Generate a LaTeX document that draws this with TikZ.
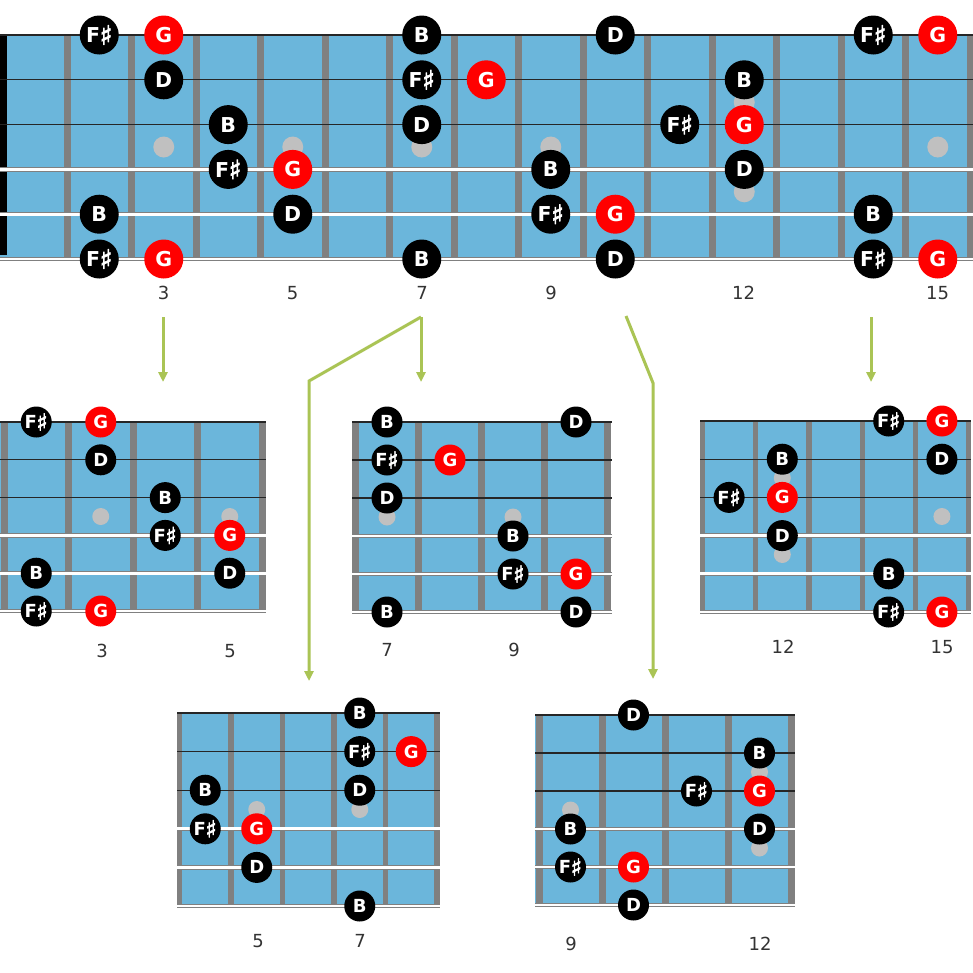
\documentclass[tikz,border=0pt]{standalone}
\usepackage{fontspec}
\setmainfont{DejaVu Sans}
\newfontfamily\shfont[FakeBold=2.5]{DejaVu Sans}
\usetikzlibrary{arrows.meta}
\definecolor{boardblue}{RGB}{107,182,219}
\definecolor{fretgray}{RGB}{128,128,128}
\definecolor{inlaygray}{RGB}{192,192,192}
\definecolor{notered}{RGB}{255,0,0}
\definecolor{conngreen}{RGB}{170,196,85}
\definecolor{labelgray}{RGB}{51,51,51}
\newcommand{\sh}{\kern-0.02em\raisebox{-0.1em}{\scalebox{1.3}{\shfont ♯}}}
\newcommand{\strs}[4]{%
  \foreach \i in {0,1,2} \draw[plainstr] (#1,{#3+(#4-#3)*\i/5}) -- (#2,{#3+(#4-#3)*\i/5});
  \foreach \i in {3,4,5} {\draw[woundout] (#1,{#3+(#4-#3)*\i/5}) -- (#2,{#3+(#4-#3)*\i/5});
    \draw[woundin] (#1,{#3+(#4-#3)*\i/5}) -- (#2,{#3+(#4-#3)*\i/5});}
}
\tikzset{
  board/.style={fill=boardblue},
  fretbar/.style={fill=fretgray},
  inlay/.style={fill=inlaygray},
  plainstr/.style={draw=black!85, line width=1.3pt},
  woundout/.style={draw=black!50, line width=4.4pt},
  woundin/.style={draw=white, line width=2.8pt},
  notebig/.style={circle, fill=black, text=white, minimum size=39pt, inner sep=0pt, font=\fontsize{20.5}{20.5}\selectfont\bfseries},
  notesm/.style={circle, fill=black, text=white, minimum size=31pt, inner sep=0pt, font=\fontsize{18}{18}\selectfont\bfseries},
  root/.style={fill=notered},
  fretnum/.style={text=labelgray, font=\fontsize{18}{18}\selectfont, inner sep=0pt},
  conn/.style={draw=conngreen, line width=3pt, -{Triangle[width=9pt,length=10pt]}},
}
\begin{document}
\begin{tikzpicture}[x=1pt,y=-1pt]
\useasboundingbox (0,0) rectangle (973,972);
\fill[white] (0,0) rectangle (973,972);

% ---------- main fretboard ----------
\fill[board] (0,35) rectangle (973,259);
\foreach \k in {0,...,14} \fill[fretbar] ({67+64.5*\k-3.5},35) rectangle ({67+64.5*\k+3.5},259);
\fill[black] (0,35) rectangle (7,255);
\foreach \p in {(163.75,147),(292.75,147),(421.75,147),(550.75,147),(937.75,147),(744.25,102.2),(744.25,191.8)}
  \fill[inlay] \p circle (10.5);
\strs{0}{973}{35}{259}

\node[notebig] (m1a) at (99.25,35) {F\sh};
\node[notebig,root] (m1b) at (163.75,35) {G};
\node[notebig] (m1c) at (421.75,35) {B};
\node[notebig] (m1d) at (615.25,35) {D};
\node[notebig] (m1e) at (873.25,35) {F\sh};
\node[notebig,root] (m1f) at (937.75,35) {G};
\node[notebig] (m2a) at (163.75,79.8) {D};
\node[notebig] (m2b) at (421.75,79.8) {F\sh};
\node[notebig,root] (m2c) at (486.25,79.8) {G};
\node[notebig] (m2d) at (744.25,79.8) {B};
\node[notebig] (m3a) at (228.25,124.6) {B};
\node[notebig] (m3b) at (421.75,124.6) {D};
\node[notebig] (m3c) at (679.75,124.6) {F\sh};
\node[notebig,root] (m3d) at (744.25,124.6) {G};
\node[notebig] (m4a) at (228.25,169.4) {F\sh};
\node[notebig,root] (m4b) at (292.75,169.4) {G};
\node[notebig] (m4c) at (550.75,169.4) {B};
\node[notebig] (m4d) at (744.25,169.4) {D};
\node[notebig] (m5a) at (99.25,214.2) {B};
\node[notebig] (m5b) at (292.75,214.2) {D};
\node[notebig] (m5c) at (550.75,214.2) {F\sh};
\node[notebig,root] (m5d) at (615.25,214.2) {G};
\node[notebig] (m5e) at (873.25,214.2) {B};
\node[notebig] (m6a) at (99.25,259) {F\sh};
\node[notebig,root] (m6b) at (163.75,259) {G};
\node[notebig] (m6c) at (421.75,259) {B};
\node[notebig] (m6d) at (615.25,259) {D};
\node[notebig] (m6e) at (873.25,259) {F\sh};
\node[notebig,root] (m6f) at (937.75,259) {G};

\node[fretnum] (ml3) at (163.5,293) {3};
\node[fretnum] (ml5) at (292.5,293) {5};
\node[fretnum] (ml7) at (422,293) {7};
\node[fretnum] (ml9) at (551,293) {9};
\node[fretnum] (ml12) at (743.5,293) {12};
\node[fretnum] (ml15) at (937.5,293) {15};

% ---------- connectors ----------
\coordinate (c1s) at (163,317); \coordinate (c1e) at (163,382);
\coordinate (c2s) at (421,317); \coordinate (c2e) at (421,382);
\coordinate (c3k) at (309,381); \coordinate (c3e) at (309,681);
\coordinate (c4s) at (626,316); \coordinate (c4k) at (653,383); \coordinate (c4e) at (653,679);
\coordinate (c5s) at (871,317); \coordinate (c5e) at (871,382);
\draw[conn] (c1s) -- (c1e);
\draw[conn] (c2s) -- (c2e);
\draw[conn] (c2s) -- (c3k) -- (c3e);
\draw[conn] (c4s) -- (c4k) -- (c4e);
\draw[conn] (c5s) -- (c5e);

% ---------- sub A: frets 2-5 ----------
\fill[board] (0,422) rectangle (266,611);
\foreach \f in {4,68.5,133,197.5,262} \fill[fretbar] (\f-3.5,422) rectangle (\f+3.5,611);
\fill[inlay] (100.75,516.5) circle (8.5);
\fill[inlay] (229.75,516.5) circle (8.5);
\strs{0}{266}{422}{611}
\node[notesm] (a1a) at (36.25,422) {F\sh};
\node[notesm,root] (a1b) at (100.75,422) {G};
\node[notesm] (a2a) at (100.75,459.8) {D};
\node[notesm] (a3a) at (165.25,497.6) {B};
\node[notesm] (a4a) at (165.25,535.4) {F\sh};
\node[notesm,root] (a4b) at (229.75,535.4) {G};
\node[notesm] (a5a) at (36.25,573.2) {B};
\node[notesm] (a5b) at (229.75,573.2) {D};
\node[notesm] (a6a) at (36.25,611) {F\sh};
\node[notesm,root] (a6b) at (100.75,611) {G};
\node[fretnum] (al3) at (102,651) {3};
\node[fretnum] (al5) at (230,651) {5};

% ---------- sub B: frets 7-10 ----------
\fill[board] (352,422) rectangle (611,612);
\foreach \f in {355.5,418.5,481.5,544.5,607.5} \fill[fretbar] (\f-3.5,422) rectangle (\f+3.5,612);
\fill[inlay] (387,517) circle (8.5);
\fill[inlay] (513,517) circle (8.5);
\strs{352}{612}{422}{612}
\node[notesm] (b1a) at (387,422) {B};
\node[notesm] (b1b) at (576,422) {D};
\node[notesm] (b2a) at (387,460) {F\sh};
\node[notesm,root] (b2b) at (450,460) {G};
\node[notesm] (b3a) at (387,498) {D};
\node[notesm] (b4a) at (513,536) {B};
\node[notesm] (b5a) at (513,574) {F\sh};
\node[notesm,root] (b5b) at (576,574) {G};
\node[notesm] (b6a) at (387,612) {B};
\node[notesm] (b6b) at (576,612) {D};
\node[fretnum] (bl7) at (387,650) {7};
\node[fretnum] (bl9) at (514,650) {9};

% ---------- sub C: frets 11-15 ----------
\fill[board] (700,421) rectangle (971,612);
\foreach \f in {702.5,755.7,808.9,862.1,915.3,968.5} \fill[fretbar] (\f-2.6,421) rectangle (\f+2.6,612);
\fill[inlay] (782.3,478) circle (8.5);
\fill[inlay] (782.3,554.5) circle (8.5);
\fill[inlay] (941.9,516.5) circle (8.5);
\strs{700}{971}{421}{612}
\node[notesm] (c1a) at (888.7,421) {F\sh};
\node[notesm,root] (c1b) at (941.9,421) {G};
\node[notesm] (c2a) at (782.3,459.2) {B};
\node[notesm] (c2b) at (941.9,459.2) {D};
\node[notesm] (c3a) at (729.1,497.4) {F\sh};
\node[notesm,root] (c3b) at (782.3,497.4) {G};
\node[notesm] (c4a) at (782.3,535.6) {D};
\node[notesm] (c5a) at (888.7,573.8) {B};
\node[notesm] (c6a) at (888.7,612) {F\sh};
\node[notesm,root] (c6b) at (941.9,612) {G};
\node[fretnum] (cl12) at (783,647) {12};
\node[fretnum] (cl15) at (942,647) {15};

% ---------- sub D: frets 4-8 ----------
\fill[board] (177,713) rectangle (440,906);
\foreach \f in {179.5,231,282.5,334,385.5,437} \fill[fretbar] (\f-2.6,713) rectangle (\f+2.6,906);
\fill[inlay] (256.75,809.5) circle (8.5);
\fill[inlay] (359.75,809.5) circle (8.5);
\strs{177}{440}{713}{906}
\node[notesm] (d1a) at (359.75,713) {B};
\node[notesm] (d2a) at (359.75,751.6) {F\sh};
\node[notesm,root] (d2b) at (411.25,751.6) {G};
\node[notesm] (d3a) at (205.25,790.2) {B};
\node[notesm] (d3b) at (359.75,790.2) {D};
\node[notesm] (d4a) at (205.25,828.8) {F\sh};
\node[notesm,root] (d4b) at (256.75,828.8) {G};
\node[notesm] (d5a) at (256.75,867.4) {D};
\node[notesm] (d6a) at (359.75,906) {B};
\node[fretnum] (dl5) at (258,941) {5};
\node[fretnum] (dl7) at (360,941) {7};

% ---------- sub E: frets 9-12 ----------
\fill[board] (535,715) rectangle (795,905);
\foreach \f in {539,602,665,728,791} \fill[fretbar] (\f-3.5,715) rectangle (\f+3.5,905);
\fill[inlay] (570.5,810) circle (8.5);
\fill[inlay] (759.5,772) circle (8.5);
\fill[inlay] (759.5,848) circle (8.5);
\strs{535}{795}{715}{905}
\node[notesm] (e1a) at (633.5,715) {D};
\node[notesm] (e2a) at (759.5,753) {B};
\node[notesm] (e3a) at (696.5,791) {F\sh};
\node[notesm,root] (e3b) at (759.5,791) {G};
\node[notesm] (e4a) at (570.5,829) {B};
\node[notesm] (e4b) at (759.5,829) {D};
\node[notesm] (e5a) at (570.5,867) {F\sh};
\node[notesm,root] (e5b) at (633.5,867) {G};
\node[notesm] (e6a) at (633.5,905) {D};
\node[fretnum] (el9) at (571,944) {9};
\node[fretnum] (el12) at (760,944) {12};
\end{tikzpicture}
\end{document}
